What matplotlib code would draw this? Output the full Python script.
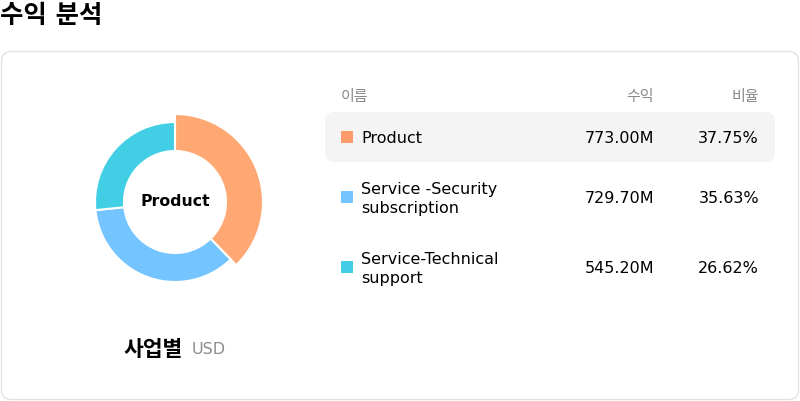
import matplotlib
matplotlib.use("Agg")
import matplotlib.pyplot as plt
from matplotlib.patches import FancyBboxPatch, Rectangle

plt.rcParams['font.family'] = ['DejaVu Sans', 'Noto Sans CJK KR']

# data
names = ['Product', 'Service -Security\nsubscription', 'Service-Technical\nsupport']
revenue = [773.00, 729.70, 545.20]  # M USD
share = [37.75, 35.63, 26.62]
slice_colors = ['#FFA873', '#74C4FF', '#42CFE6']
box_colors = ['#FF9C6C', '#74C4FF', '#42CFE6']
headers = ['이름', '수익', '비율']
selected = 0

fig = plt.figure(figsize=(8, 4.02), dpi=100)

# pixel canvas for the card, text and table
bg = fig.add_axes([0, 0, 1, 1])
bg.set_xlim(0, 800)
bg.set_ylim(402, 0)
bg.axis('off')

bg.text(0, 16, '수익 분석', fontsize=18.3, fontweight='bold', va='center', ha='left')

card = FancyBboxPatch((1.5, 52.5), 797, 348, boxstyle='round,pad=0,rounding_size=10',
                      fc='white', ec='#e1e1ea', lw=1)
bg.add_patch(card)

# table header
bg.text(341, 96, headers[0], fontsize=10.8, color='#8a8a8a', va='center', ha='left')
bg.text(654, 96, headers[1], fontsize=10.8, color='#8a8a8a', va='center', ha='right')
bg.text(759, 96, headers[2], fontsize=10.8, color='#8a8a8a', va='center', ha='right')

row_y = [139, 199, 269]
hl = FancyBboxPatch((325, 113), 450, 50, boxstyle='round,pad=0,rounding_size=9',
                    fc='#f4f4f4', ec='none')
bg.add_patch(hl)
for i, name in enumerate(names):
    y = row_y[i]
    bg.add_patch(Rectangle((341, y - 7), 12, 12, fc=box_colors[i], ec='none'))
    bg.text(361, y, name, fontsize=11.5, va='center', ha='left', linespacing=1.3)
    bg.text(654, y, f'{revenue[i]:.2f}M', fontsize=11.5, va='center', ha='right')
    bg.text(759, y, f'{share[i]:.2f}%', fontsize=11.5, va='center', ha='right')

bg.text(183, 350, '사업별', fontsize=15.5, fontweight='bold', va='center', ha='right')
bg.text(192, 350, 'USD', fontsize=11.5, color='#8c8c8c', va='center', ha='left')

# donut
pie_ax = fig.add_axes([75 / 800, (402 - 303) / 402, 200 / 800, 200 / 402])
wedges, _ = pie_ax.pie(revenue, colors=slice_colors, startangle=90, counterclock=False,
                       radius=1.0, wedgeprops=dict(width=0.3625, edgecolor='white', linewidth=1.5))
wedges[selected].set_radius(1.1)
wedges[selected].set_width(1.1 - 0.6375)
pie_ax.set_xlim(-1.25, 1.25)
pie_ax.set_ylim(-1.25, 1.25)
pie_ax.set_aspect('equal')
pie_ax.axis('off')
pie_ax.text(0, 0.02, names[selected], fontsize=11.3, fontweight='bold', ha='center', va='center')

fig.savefig('out.png', dpi=100, facecolor='white')
